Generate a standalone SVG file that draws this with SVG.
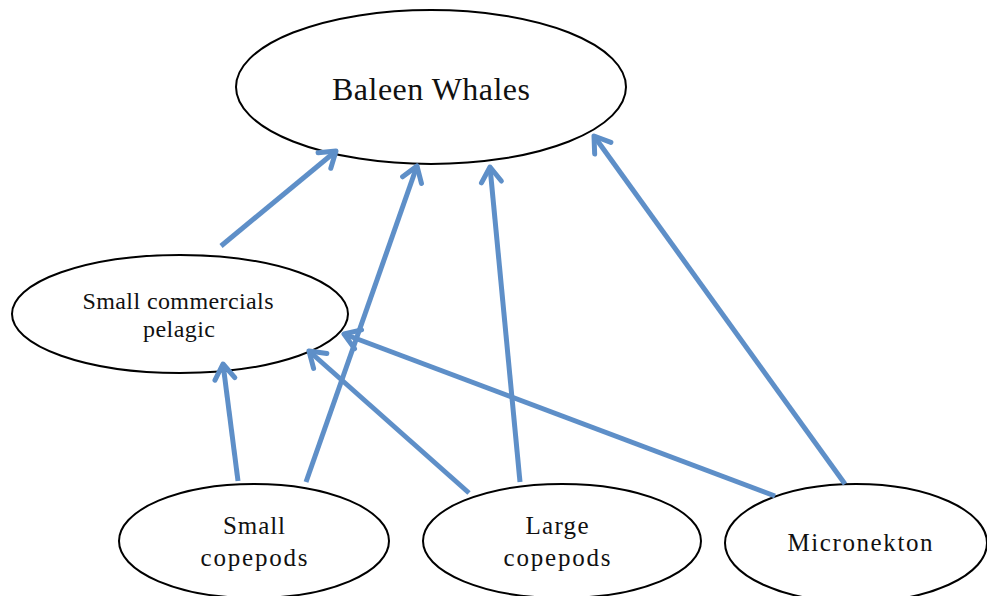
<svg xmlns="http://www.w3.org/2000/svg" width="987" height="596" viewBox="0 0 987 596">
<style>
.node ellipse{fill:#fff;stroke:#000;stroke-width:2}
.node text{font-family:"Liberation Serif","DejaVu Serif",serif;fill:#111;text-anchor:middle}
.edge{stroke:#5e8fc8;stroke-width:5;fill:none;marker-end:url(#arr)}
</style>
<defs>
<marker id="arr" markerUnits="userSpaceOnUse" viewBox="-20 -14 26 28" refX="0" refY="0" markerWidth="26" markerHeight="28" orient="auto">
<path d="M-15,-10 L0,0 L-15,10" fill="none" stroke="#5e8fc8" stroke-width="5" stroke-linecap="round" stroke-linejoin="round"/>
</marker>
</defs>
<rect width="987" height="596" fill="#fff"/>
<g id="baleen" class="node"><ellipse cx="431" cy="87" rx="195" ry="77"/><text x="431" y="100" font-size="32" textLength="198" lengthAdjust="spacing">Baleen Whales</text></g>
<g id="pelagic" class="node"><ellipse cx="180" cy="314" rx="168" ry="59"/><text x="178" y="309" font-size="24" textLength="191" lengthAdjust="spacing">Small commercials</text><text x="179" y="337" font-size="24" textLength="72" lengthAdjust="spacing">pelagic</text></g>
<g id="smallcop" class="node"><ellipse cx="254" cy="541" rx="135" ry="57"/><text x="254" y="534" font-size="25" textLength="62" lengthAdjust="spacing">Small</text><text x="254" y="566" font-size="25" textLength="107" lengthAdjust="spacing">copepods</text></g>
<g id="largecop" class="node"><ellipse cx="562" cy="541" rx="139" ry="57"/><text x="557" y="534" font-size="25" textLength="63" lengthAdjust="spacing">Large</text><text x="557" y="566" font-size="25" textLength="107" lengthAdjust="spacing">copepods</text></g>
<g id="micronekton" class="node"><ellipse cx="856" cy="543" rx="131" ry="59"/><text x="860" y="551" font-size="25" textLength="145" lengthAdjust="spacing">Micronekton</text></g>
<g id="connectors">
<line class="edge" x1="221" y1="246" x2="336" y2="151"/>
<line class="edge" x1="306" y1="482" x2="417" y2="166"/>
<line class="edge" x1="238" y1="481" x2="223" y2="364"/>
<line class="edge" x1="469" y1="493" x2="309" y2="351"/>
<line class="edge" x1="520" y1="482" x2="490" y2="167"/>
<line class="edge" x1="775" y1="496" x2="344" y2="334"/>
<line class="edge" x1="845" y1="484" x2="594" y2="136"/>
</g>
</svg>
